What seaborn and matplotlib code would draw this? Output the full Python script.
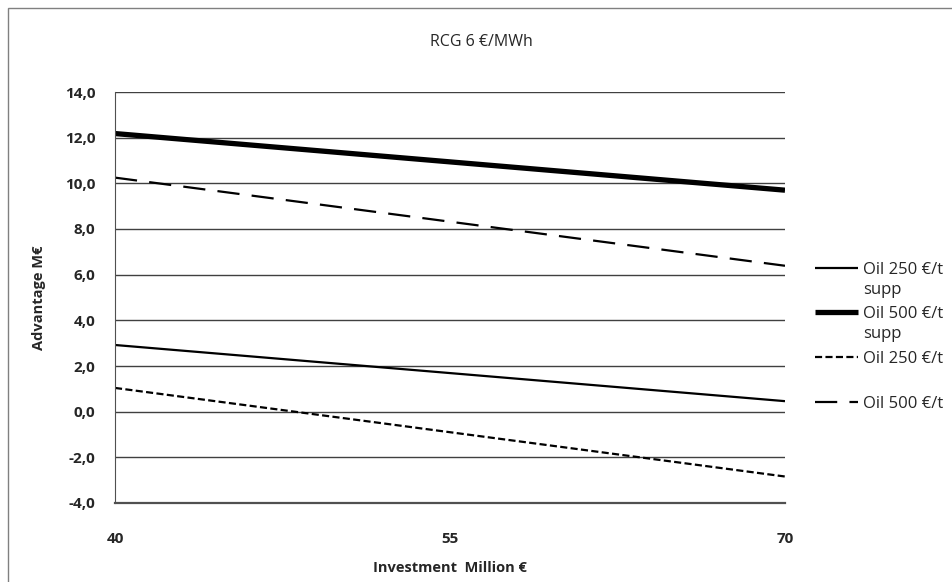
import pandas as pd
import seaborn as sns
import matplotlib.pyplot as plt
from matplotlib.patches import Rectangle
from matplotlib.ticker import FuncFormatter

# Data
investment = [40, 55, 70]
oil250_supp = [2.92, 1.69, 0.46]
oil500_supp = [12.18, 10.94, 9.70]
oil250 = [1.04, -0.90, -2.84]
oil500 = [10.25, 8.32, 6.39]

series_names = ['Oil 250 €/t', 'Oil 500 €/t', 'Oil 250 €/t', 'Oil 500 €/t']
series_values = [oil250_supp, oil500_supp, oil250, oil500]
has_supp = [True, True, False, False]

styles = [
    dict(lw=1.6, linestyle='-'),
    dict(lw=3.8, linestyle='-'),
    dict(lw=1.6, linestyle=(0, (3.2, 1.5))),
    dict(lw=1.6, linestyle=(0, (10, 5.5))),
]

sns.set_style('white')
plt.rcParams['font.family'] = ['Open Sans', 'DejaVu Sans']

fig = plt.figure(figsize=(9.53, 5.82), dpi=100)
ax = fig.add_axes([115 / 953, 1 - 503 / 582, 670 / 953, 411 / 582])

for name, vals, st in zip(series_names, series_values, styles):
    df = pd.DataFrame({'x': investment, 'y': vals})
    sns.lineplot(data=df, x='x', y='y', ax=ax, color='black', label=name,
                 solid_capstyle='butt', dash_capstyle='butt', **st)

ax.set_xlim(40, 70)
ax.set_ylim(-4, 14)
ax.set_xticks(investment)
ax.set_yticks(range(-4, 15, 2))
ax.yaxis.set_major_formatter(FuncFormatter(lambda v, p: f'{v:.1f}'.replace('.', ',')))
ax.grid(axis='y', color='#404040', lw=1.0)
ax.set_axisbelow(True)
for s in ['top', 'right']:
    ax.spines[s].set_visible(False)
ax.spines['left'].set_color('#505050')
ax.spines['bottom'].set_color('#505050')
ax.spines['bottom'].set_linewidth(1.6)
ax.tick_params(axis='y', length=6, width=1.0, color='#505050', pad=8, labelsize=11)
ax.tick_params(axis='x', length=0, pad=21, labelsize=11)
for lab in ax.get_xticklabels() + ax.get_yticklabels():
    lab.set_fontweight('bold')

ax.set_xlabel('Investment  Million €', fontsize=10.5, fontweight='bold', labelpad=11)
ax.set_ylabel('Advantage M€', fontsize=10.5, fontweight='bold', labelpad=14)
fig.text(481 / 953, 1 - 42 / 582, 'RCG 6 €/MWh', ha='center', va='center', fontsize=11.5)

leg = ax.legend(loc='center left', bbox_to_anchor=(1.035, 0.405), frameon=False,
                fontsize=12, handlelength=2.6, handletextpad=0.3,
                labelspacing=1.72, borderaxespad=0)
fig.canvas.draw()
for txt, supp in zip(leg.get_texts(), has_supp):
    if supp:
        ax.annotate('supp', xy=(0, 0), xycoords=txt, xytext=(0, -4),
                    textcoords='offset pixels', va='top', ha='left', fontsize=12)

# chart area border
fig.patches.append(Rectangle((8 / 953, -0.05), 1.0, 1 - 8 / 582 + 0.05,
                             transform=fig.transFigure, fill=False,
                             edgecolor='#808080', lw=1.0))

fig.savefig('out.png', dpi=100)
